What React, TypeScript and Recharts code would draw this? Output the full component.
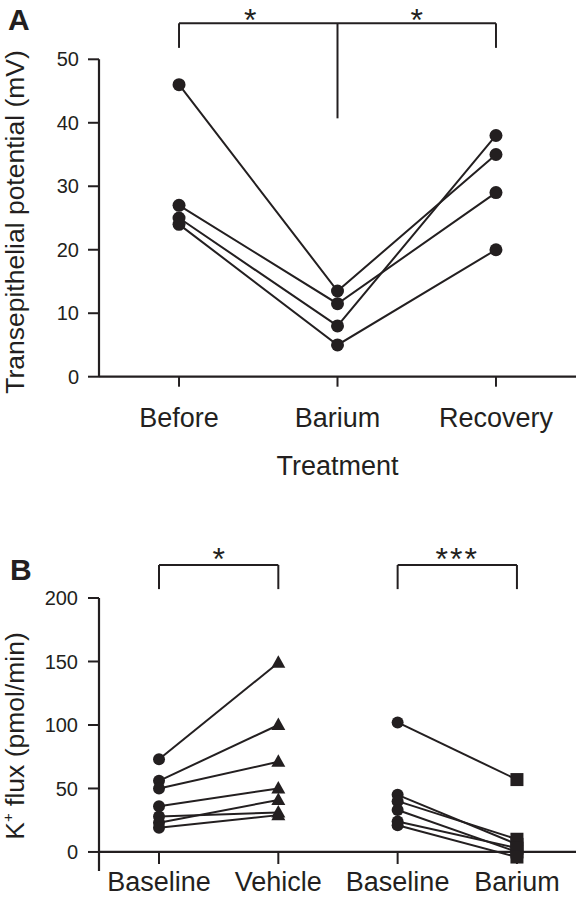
import { LineChart, Line, XAxis, YAxis, ReferenceLine, ReferenceDot } from "recharts";

const INK = "#231f20";
const FONT = "'Liberation Sans', Arial, Helvetica, sans-serif";

// Panel A: transepithelial potential (mV), one entry per tissue
const treatments = ["Before", "Barium", "Recovery"];
const tepBefore = [46, 27, 25, 24];
const tepBarium = [13.5, 11.5, 8, 5];
const tepRecovery = [35, 29, 38, 20];

// Panel B: K+ flux (pmol/min)
const fluxLabels = ["Baseline", "Vehicle", "Baseline", "Barium"];
const vehBaseline = [73, 56, 50, 36, 28, 23, 19];
const vehicle = [149, 100, 71, 50, 31, 41, 29];
const baBaseline = [102, 45, 40, 33, 24, 21];
const barium = [57, 6, 10, 0, 3, -4];

const tepSeries = tepBefore.map((v, i) => [
  { x: 0, y: v },
  { x: 1, y: tepBarium[i] },
  { x: 2, y: tepRecovery[i] },
]);
const vehSeries = vehBaseline.map((v, i) => [
  { x: 0, y: v },
  { x: 1, y: vehicle[i] },
]);
const baSeries = baBaseline.map((v, i) => [
  { x: 2, y: v },
  { x: 3, y: barium[i] },
]);

const dotKey = (p: any) => `${p.index}-${p.cx}-${p.cy}`;

const circleDot = (r: number) => (p: any) => <circle key={dotKey(p)} cx={p.cx} cy={p.cy} r={r} fill={INK} />;

const pairDot = (end: "triangle" | "square") => (p: any) => {
  if (p.index === 0) return <circle key={dotKey(p)} cx={p.cx} cy={p.cy} r={6} fill={INK} />;
  if (end === "square") {
    return <rect key={dotKey(p)} x={p.cx - 6.5} y={p.cy - 6.5} width={13} height={13} fill={INK} />;
  }
  return (
    <polygon
      key={dotKey(p)}
      points={`${p.cx},${p.cy - 7.5} ${p.cx - 7},${p.cy + 5} ${p.cx + 7},${p.cy + 5}`}
      fill={INK}
    />
  );
};

const star = (text: string) => (p: any) => (
  <text x={p.cx} y={p.cy} textAnchor="middle" fontSize={32} fontFamily={FONT} fill={INK} letterSpacing={text.length > 1 ? 2 : 0}>
    {text}
  </text>
);

const yTitle = (y: number, kPlus: boolean) => () => (
  <text
    x={24}
    y={y}
    transform={`rotate(-90, 24, ${y})`}
    textAnchor="middle"
    fontSize={26.5}
    fontFamily={FONT}
    fill={INK}
  >
    {kPlus ? (
      <>
        K<tspan fontSize={15} dy={-11}>+</tspan>
        <tspan dy={11}> flux (pmol/min)</tspan>
      </>
    ) : (
      "Transepithelial potential (mV)"
    )}
  </text>
);

const treatmentTitle = (p: any) => {
  const vb = p.viewBox || { x: 99, y: 377, width: 477 };
  return (
    <text x={vb.x + vb.width / 2} y={475} textAnchor="middle" fontSize={27} fontFamily={FONT} fill={INK}>
      Treatment
    </text>
  );
};

const seg = { stroke: INK, strokeWidth: 2, ifOverflow: "visible" as const };

export default function App() {
  return (
    <div style={{ position: "absolute", left: 0, top: 0, width: 576, height: 912, background: "#fff", fontFamily: FONT }}>
      <div style={{ position: "absolute", left: 0, top: 0 }}>
        <LineChart width={576} height={490} margin={{ top: 59.3, right: 0, bottom: 0, left: 0 }}>
          <XAxis
            type="number"
            dataKey="x"
            domain={[-0.505, 2.505]}
            ticks={[0, 1, 2]}
            interval={0}
            tickFormatter={(v: number) => treatments[v]}
            height={113.3}
            axisLine={{ stroke: INK, strokeWidth: 2.2 }}
            tickLine={{ stroke: INK, strokeWidth: 2 }}
            tickSize={10}
            tickMargin={21}
            tick={{ fill: INK, fontSize: 27, fontFamily: FONT }}
            label={{ content: treatmentTitle }}
          />
          <YAxis
            type="number"
            domain={[0, 50]}
            ticks={[0, 10, 20, 30, 40, 50]}
            width={99}
            axisLine={{ stroke: INK, strokeWidth: 2.2 }}
            tickLine={{ stroke: INK, strokeWidth: 2 }}
            tickSize={11}
            tickMargin={9}
            tick={{ fill: INK, fontSize: 20, fontFamily: FONT }}
            label={{ content: yTitle(222, false) }}
          />
          <ReferenceLine segment={[{ x: 0, y: 55.67 }, { x: 2, y: 55.67 }]} {...seg} />
          <ReferenceLine segment={[{ x: 0, y: 55.67 }, { x: 0, y: 51.8 }]} {...seg} />
          <ReferenceLine segment={[{ x: 2, y: 55.67 }, { x: 2, y: 51.8 }]} {...seg} />
          <ReferenceLine segment={[{ x: 1, y: 55.67 }, { x: 1, y: 40.7 }]} {...seg} />
          <ReferenceDot x={0.45} y={54.5} ifOverflow="visible" shape={star("*")} />
          <ReferenceDot x={1.5} y={54.5} ifOverflow="visible" shape={star("*")} />
          {tepSeries.map((d, i) => (
            <Line
              key={`tep-${i}`}
              data={d}
              dataKey="y"
              stroke={INK}
              strokeWidth={2}
              dot={circleDot(6.5)}
              activeDot={false}
              isAnimationActive={false}
            />
          ))}
        </LineChart>
      </div>
      <div style={{ position: "absolute", left: 0, top: 490 }}>
        <LineChart width={576} height={422} margin={{ top: 108, right: 0, bottom: 0, left: 0 }}>
          <XAxis
            type="number"
            dataKey="x"
            domain={[-0.503, 3.495]}
            ticks={[0, 1, 2, 3]}
            interval={0}
            tickFormatter={(v: number) => fluxLabels[v]}
            height={41}
            axisLine={false}
            tickLine={false}
            tickSize={0}
            tickMargin={1}
            tick={{ fill: INK, fontSize: 27, fontFamily: FONT }}
          />
          <YAxis
            type="number"
            domain={[-15, 200]}
            ticks={[0, 50, 100, 150, 200]}
            width={99}
            axisLine={{ stroke: INK, strokeWidth: 2.2 }}
            tickLine={{ stroke: INK, strokeWidth: 2 }}
            tickSize={11}
            tickMargin={10}
            tick={{ fill: INK, fontSize: 20, fontFamily: FONT }}
            label={{ content: yTitle(246, true) }}
          />
          <ReferenceLine y={0} stroke={INK} strokeWidth={2.2} />
          {fluxLabels.map((_, i) => (
            <ReferenceLine key={`xt-${i}`} segment={[{ x: i, y: 0 }, { x: i, y: -9.5 }]} stroke={INK} strokeWidth={2} ifOverflow="visible" />
          ))}
          <ReferenceLine segment={[{ x: 0, y: 226 }, { x: 1, y: 226 }]} {...seg} />
          <ReferenceLine segment={[{ x: 0, y: 226 }, { x: 0, y: 207 }]} {...seg} />
          <ReferenceLine segment={[{ x: 1, y: 226 }, { x: 1, y: 207 }]} {...seg} />
          <ReferenceLine segment={[{ x: 2, y: 226 }, { x: 3, y: 226 }]} {...seg} />
          <ReferenceLine segment={[{ x: 2, y: 226 }, { x: 2, y: 207 }]} {...seg} />
          <ReferenceLine segment={[{ x: 3, y: 226 }, { x: 3, y: 207 }]} {...seg} />
          <ReferenceDot x={0.5} y={222} ifOverflow="visible" shape={star("*")} />
          <ReferenceDot x={2.5} y={222} ifOverflow="visible" shape={star("***")} />
          {vehSeries.map((d, i) => (
            <Line
              key={`veh-${i}`}
              data={d}
              dataKey="y"
              stroke={INK}
              strokeWidth={2}
              dot={pairDot("triangle")}
              activeDot={false}
              isAnimationActive={false}
            />
          ))}
          {baSeries.map((d, i) => (
            <Line
              key={`ba-${i}`}
              data={d}
              dataKey="y"
              stroke={INK}
              strokeWidth={2}
              dot={pairDot("square")}
              activeDot={false}
              isAnimationActive={false}
            />
          ))}
        </LineChart>
      </div>
      <svg width={576} height={912} style={{ position: "absolute", left: 0, top: 0, pointerEvents: "none" }}>
        <text x={8} y={30} fontSize={30} fontWeight="bold" fontFamily={FONT} fill={INK}>
          A
        </text>
        <text x={10} y={580} fontSize={30} fontWeight="bold" fontFamily={FONT} fill={INK}>
          B
        </text>
      </svg>
    </div>
  );
}
